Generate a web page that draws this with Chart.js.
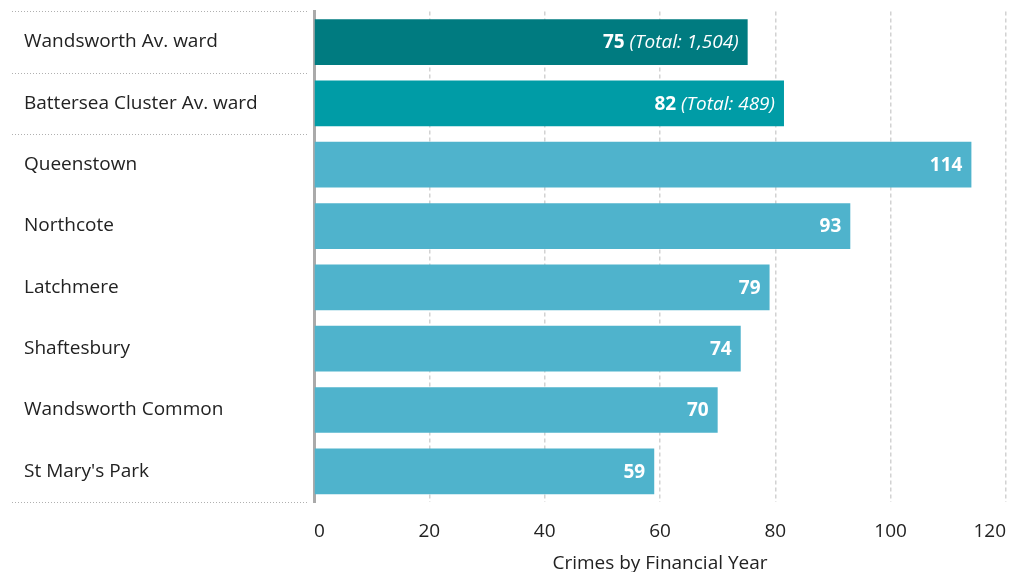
<!DOCTYPE html>
<html>
<head>
<meta charset="utf-8">
<script src="https://cdn.jsdelivr.net/npm/chart.js@4/dist/chart.umd.min.js"></script>
<style>
html,body{margin:0;padding:0;background:#fff;}
#wrap{width:1021px;height:572px;position:relative;}
</style>
</head>
<body>
<div id="wrap"><canvas id="c"></canvas></div>
<script>
const categories = ["Wandsworth Av. ward","Battersea Cluster Av. ward","Queenstown","Northcote","Latchmere","Shaftesbury","Wandsworth Common","St Mary's Park"];
const crimeValues = [75.2, 81.5, 114, 93, 79, 74, 70, 59];
const totals = [1504, 489, null, null, null, null, null, null];
const barColors = ["#007B80","#009CA6","#4FB3CC","#4FB3CC","#4FB3CC","#4FB3CC","#4FB3CC","#4FB3CC"];
const xTicks = [0, 20, 40, 60, 80, 100, 120];
const axisTitle = "Crimes by Financial Year";
const separatorAfter = [-1, 0, 1, 7];

const FONT = "'Open Sans', 'Noto Sans', sans-serif";
const FS = 19;

const labelPlugin = {
  id: 'barLabels',
  afterDatasetsDraw(chart) {
    const ctx = chart.ctx;
    const meta = chart.getDatasetMeta(0);
    ctx.save();
    ctx.textBaseline = 'middle';
    ctx.fillStyle = '#fff';
    meta.data.forEach((bar, i) => {
      const v = Math.round(crimeValues[i]);
      let x = bar.x - 9;
      const y = bar.y + 1;
      if (totals[i] != null) {
        const t = ' (Total: ' + totals[i].toLocaleString('en-GB') + ')';
        ctx.font = 'italic ' + FS + 'px ' + FONT;
        ctx.textAlign = 'right';
        ctx.fillText(t, x, y);
        x -= ctx.measureText(t).width;
      }
      ctx.font = 'bold ' + FS + 'px ' + FONT;
      ctx.textAlign = 'right';
      ctx.fillText(String(v), x, y);
    });
    ctx.restore();
  }
};

const sepPlugin = {
  id: 'separators',
  afterDraw(chart) {
    const ctx = chart.ctx;
    const ys = chart.scales.y;
    ctx.save();
    ctx.strokeStyle = '#b0b0b0';
    ctx.lineWidth = 1;
    ctx.setLineDash([1, 2]);
    separatorAfter.forEach(i => {
      let y;
      if (i < 0) y = chart.chartArea.top;
      else if (i >= categories.length - 1) y = chart.chartArea.bottom;
      else y = (ys.getPixelForValue(i) + ys.getPixelForValue(i + 1)) / 2;
      y = Math.round(y) + 0.5;
      ctx.beginPath();
      ctx.moveTo(12, y);
      ctx.lineTo(chart.chartArea.left - 6, y);
      ctx.stroke();
    });
    ctx.restore();
  }
};

new Chart(document.getElementById('c'), {
  type: 'bar',
  data: {
    labels: categories,
    datasets: [{
      data: crimeValues,
      backgroundColor: barColors,
      borderWidth: 0,
      barPercentage: 0.745,
      categoryPercentage: 1.0
    }]
  },
  options: {
    indexAxis: 'y',
    responsive: true,
    maintainAspectRatio: false,
    animation: false,
    layout: { padding: { left: 24, right: 15, top: 8, bottom: 0 } },
    plugins: { legend: { display: false }, tooltip: { enabled: false } },
    scales: {
      x: {
        min: 0, max: 120,
        afterBuildTicks(scale) { scale.ticks = xTicks.map(v => ({ value: v })); },
        afterFit(scale) { scale.height = 70; scale.paddingLeft = 0; scale.paddingRight = 0; },
        border: { display: false, dash: [4, 3] },
        grid: {
          drawTicks: false,
          color: ctx => (ctx.tick && ctx.tick.value === 0) ? 'rgba(0,0,0,0)' : '#d2d2d2',
          lineWidth: 1.5
        },
        ticks: { color: '#222', align: 'inner', font: { family: FONT, size: FS }, padding: 18 },
        title: { display: true, text: axisTitle, color: '#222', font: { family: FONT, size: FS }, padding: { top: 0, bottom: -3 } }
      },
      y: {
        afterFit(scale) { scale.width = 290; },
        border: { display: true, color: '#aaaaaa', width: 3 },
        grid: { display: false },
        ticks: { color: '#222', crossAlign: 'far', font: { family: FONT, size: FS }, padding: 0 }
      }
    }
  },
  plugins: [labelPlugin, sepPlugin]
});
</script>
</body>
</html>
